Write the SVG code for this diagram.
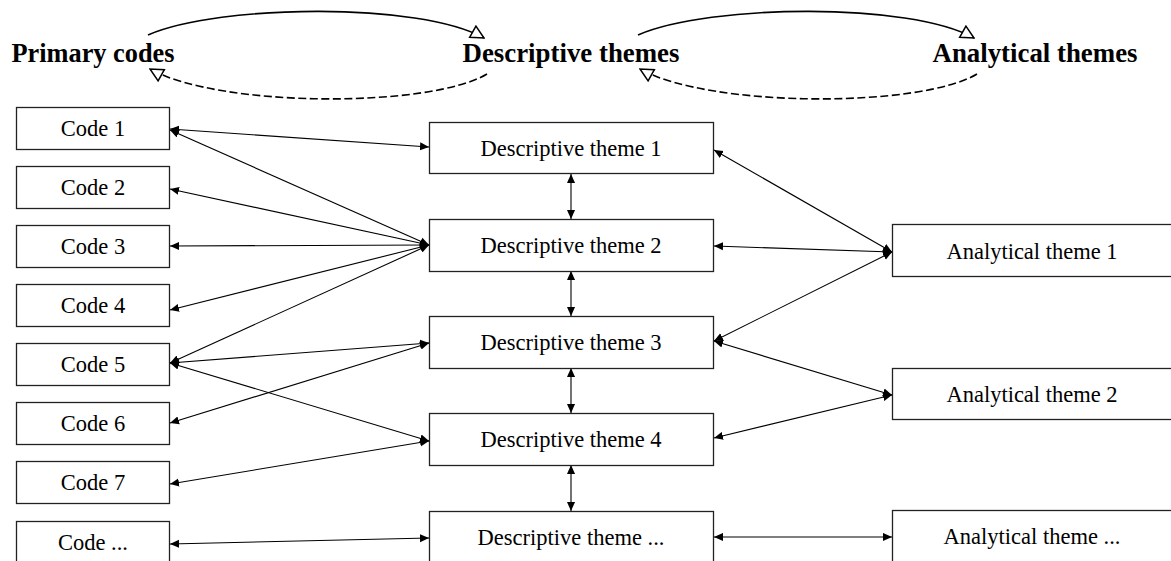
<svg xmlns="http://www.w3.org/2000/svg" width="1171" height="561" viewBox="0 0 1171 561">
  <style>
    .box { fill: #fff; stroke: #222; stroke-width: 1.3; }
    .lbl { font-family: "Liberation Serif", "Times New Roman", serif; font-size: 22.5px; fill: #000; text-anchor: middle; }
    .hdr { font-family: "Liberation Serif", "Times New Roman", serif; font-size: 27px; font-weight: bold; fill: #000; }
    .link { fill: none; stroke: #000; stroke-width: 1.1; marker-start: url(#tip); marker-end: url(#tip); }
    .cycle { fill: none; stroke: #000; stroke-width: 1.6; marker-end: url(#open); }
    .dash { stroke-dasharray: 8 3.5; }
  </style>
  <defs>
    <marker id="tip" viewBox="0 0 10 10" refX="10" refY="5" markerWidth="9" markerHeight="9" markerUnits="userSpaceOnUse" orient="auto-start-reverse">
      <path d="M0,0.5 L10,5 L0,9.5 z" fill="#000"/>
    </marker>
    <marker id="open" viewBox="-1 -1 14 14" refX="12" refY="6" markerWidth="15" markerHeight="15" markerUnits="userSpaceOnUse" orient="auto">
      <path d="M0,0 L12,6 L0,12 z" fill="#fff" stroke="#000" stroke-width="1.4" stroke-linejoin="miter"/>
    </marker>
  </defs>

  <rect width="1171" height="561" fill="#fff"/>

  <!-- column headings and the iteration loops between them -->
  <g id="headings">
    <text class="hdr" x="11.5" y="62" textLength="163" lengthAdjust="spacingAndGlyphs">Primary codes</text>
    <text class="hdr" x="462.5" y="62" textLength="217" lengthAdjust="spacingAndGlyphs">Descriptive themes</text>
    <text class="hdr" x="932.5" y="62" textLength="205" lengthAdjust="spacingAndGlyphs">Analytical themes</text>
  </g>
  <g id="loops">
    <path class="cycle" d="M148,35 C220,4 420,2 484,38"/>
    <path class="cycle dash" d="M487,74 C430,108 220,108 150,69"/>
    <path class="cycle" d="M638,35 C710,4 910,2 974,38"/>
    <path class="cycle dash" d="M977,74 C920,108 710,108 640,69"/>
  </g>

  <!-- connectors -->
  <g id="connectors">
    <line class="link" x1="170" y1="129" x2="429" y2="147"/>
    <line class="link" x1="170" y1="130" x2="429" y2="245"/>
    <line class="link" x1="170" y1="189" x2="429" y2="245"/>
    <line class="link" x1="170" y1="246" x2="429" y2="245"/>
    <line class="link" x1="170" y1="310" x2="429" y2="245"/>
    <line class="link" x1="170" y1="363" x2="429" y2="245"/>
    <line class="link" x1="170" y1="363" x2="429" y2="343"/>
    <line class="link" x1="170" y1="363" x2="429" y2="441"/>
    <line class="link" x1="170" y1="423" x2="429" y2="343"/>
    <line class="link" x1="170" y1="484" x2="429" y2="441"/>
    <line class="link" x1="170" y1="544" x2="429" y2="538"/>

    <line class="link" x1="571" y1="174" x2="571" y2="219"/>
    <line class="link" x1="571" y1="271" x2="571" y2="316"/>
    <line class="link" x1="571" y1="368" x2="571" y2="413"/>
    <line class="link" x1="571" y1="465" x2="571" y2="511"/>

    <line class="link" x1="714" y1="150" x2="892" y2="252"/>
    <line class="link" x1="714" y1="246" x2="892" y2="252"/>
    <line class="link" x1="714" y1="341" x2="892" y2="252"/>
    <line class="link" x1="714" y1="341" x2="892" y2="395"/>
    <line class="link" x1="714" y1="438" x2="892" y2="395"/>
    <line class="link" x1="714" y1="537" x2="892" y2="537"/>
  </g>

  <!-- primary codes -->
  <g id="code-1"><rect class="box" x="16.5" y="107.5" width="153" height="42"/><text class="lbl" x="93" y="136">Code 1</text></g>
  <g id="code-2"><rect class="box" x="16.5" y="166.5" width="153" height="42"/><text class="lbl" x="93" y="195">Code 2</text></g>
  <g id="code-3"><rect class="box" x="16.5" y="225.5" width="153" height="42"/><text class="lbl" x="93" y="254">Code 3</text></g>
  <g id="code-4"><rect class="box" x="16.5" y="284.5" width="153" height="42"/><text class="lbl" x="93" y="313">Code 4</text></g>
  <g id="code-5"><rect class="box" x="16.5" y="343.5" width="153" height="42"/><text class="lbl" x="93" y="372">Code 5</text></g>
  <g id="code-6"><rect class="box" x="16.5" y="402.5" width="153" height="42"/><text class="lbl" x="93" y="431">Code 6</text></g>
  <g id="code-7"><rect class="box" x="16.5" y="461.5" width="153" height="42"/><text class="lbl" x="93" y="490">Code 7</text></g>
  <g id="code-more"><rect class="box" x="16.5" y="521.5" width="153" height="42"/><text class="lbl" x="93" y="550">Code ...</text></g>

  <!-- descriptive themes -->
  <g id="desc-1"><rect class="box" x="429.5" y="122.5" width="284" height="51"/><text class="lbl" x="571" y="156">Descriptive theme 1</text></g>
  <g id="desc-2"><rect class="box" x="429.5" y="219.5" width="284" height="52"/><text class="lbl" x="571" y="253">Descriptive theme 2</text></g>
  <g id="desc-3"><rect class="box" x="429.5" y="316.5" width="284" height="52"/><text class="lbl" x="571" y="350">Descriptive theme 3</text></g>
  <g id="desc-4"><rect class="box" x="429.5" y="413.5" width="284" height="52"/><text class="lbl" x="571" y="447">Descriptive theme 4</text></g>
  <g id="desc-more"><rect class="box" x="429.5" y="511.5" width="284" height="52"/><text class="lbl" x="571" y="545">Descriptive theme ...</text></g>

  <!-- analytical themes -->
  <g id="anal-1"><rect class="box" x="892.5" y="224.5" width="280" height="52"/><text class="lbl" x="1032" y="259">Analytical theme 1</text></g>
  <g id="anal-2"><rect class="box" x="892.5" y="368.5" width="280" height="51"/><text class="lbl" x="1032" y="402">Analytical theme 2</text></g>
  <g id="anal-more"><rect class="box" x="892.5" y="510.5" width="280" height="52"/><text class="lbl" x="1032" y="544">Analytical theme ...</text></g>
</svg>
